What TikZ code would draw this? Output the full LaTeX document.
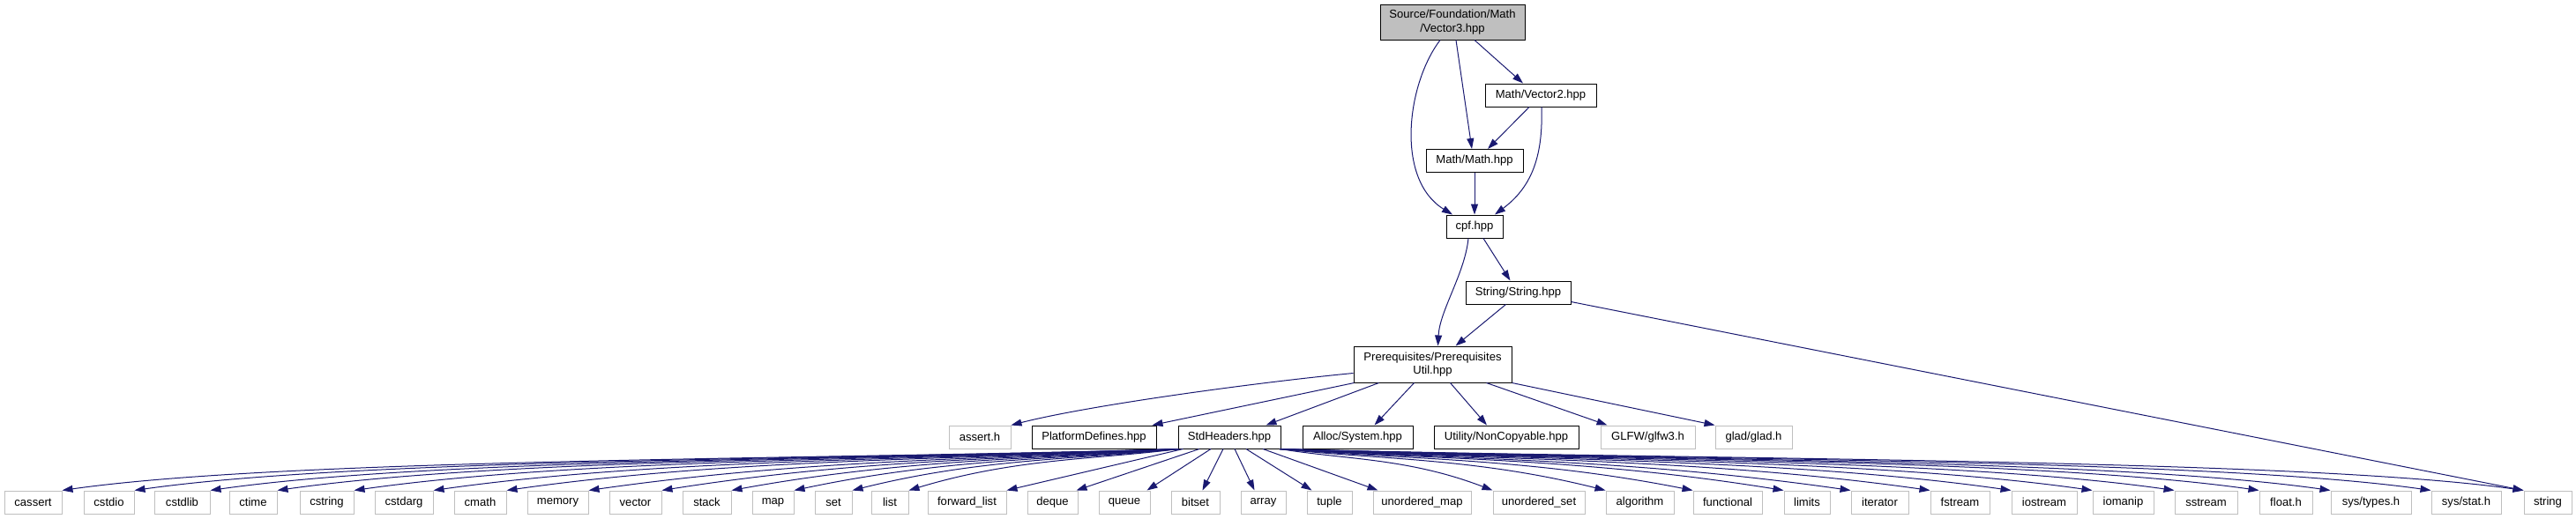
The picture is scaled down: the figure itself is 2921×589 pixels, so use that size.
\documentclass[tikz,border=0pt]{standalone}
\usepackage{fontspec}
\setmainfont{Liberation Sans}
\usepackage{tikz}
\usetikzlibrary{arrows.meta, calc}
\definecolor{dxblue}{HTML}{191970}
\definecolor{dxgray}{HTML}{BFBFBF}
\newcommand{\pxu}{0.75pt}
\tikzset{
  filebox/.style={rectangle, draw=black, line width=0.75pt, fill=white, inner sep=0pt,
    minimum height=26*\pxu, align=center, font=\fontsize{9.8}{11.5}\selectfont},
  extbox/.style={filebox, draw=dxgray},
  curbox/.style={filebox, fill=dxgray},
  edge/.style={draw=dxblue, line width=0.75pt, -{Triangle[length=9pt,width=6pt]}},
}

\begin{document}
\begin{tikzpicture}[x=0.75pt, y=-0.75pt]
  \useasboundingbox (0,0) rectangle (2921,589);
  % upper part of the include graph
  \node[curbox, minimum width=164*\pxu, minimum height=40*\pxu] (v3) at (1647,25) {Source/Foundation/Math\\/Vector3.hpp};
  \node[filebox, minimum width=126*\pxu] (v2) at (1747,108) {Math/Vector2.hpp};
  \node[filebox, minimum width=110*\pxu] (mth) at (1672,182.5) {Math/Math.hpp};
  \node[filebox, minimum width=64*\pxu] (cpf) at (1672,257) {cpf.hpp};
  \node[filebox, minimum width=119*\pxu] (str) at (1721.5,332) {String/String.hpp};
  \node[filebox, minimum width=179*\pxu, minimum height=41*\pxu] (pre) at (1624.5,413.5) {Prerequisites/Prerequisites\\Util.hpp};
  % second row
  \node[extbox, minimum width=70*\pxu] (asserth) at (1111,496) {assert.h};
  \node[filebox, minimum width=141*\pxu] (platdef) at (1240.5,496) {PlatformDefines.hpp};
  \node[filebox, minimum width=116*\pxu] (stdh) at (1394,496) {StdHeaders.hpp};
  \node[filebox, minimum width=125*\pxu] (allocsys) at (1539.5,496) {Alloc/System.hpp};
  \node[filebox, minimum width=164*\pxu] (noncopy) at (1708,496) {Utility/NonCopyable.hpp};
  \node[extbox, minimum width=107*\pxu] (glfw) at (1868.5,496) {GLFW/glfw3.h};
  \node[extbox, minimum width=87*\pxu] (glad) at (1988.5,496) {glad/glad.h};
  % bottom row: standard headers
  \foreach \nm/\lbl/\l/\r in {
    cassert/cassert/5/70, cstdio/cstdio/95/152, cstdlib/cstdlib/175/238,
    ctime/ctime/260/314, cstring/cstring/340/401, cstdarg/cstdarg/425/491,
    cmath/cmath/515/574, memory/memory/598/667, vector/vector/691/750,
    stack/stack/774/829, map/map/853/900, set/set/924/966, list/list/988/1030,
    fwdlist/forward\_list/1052/1141, deque/deque/1165/1222, queue/queue/1246/1304,
    bitset/bitset/1328/1383, array/array/1407/1458, tuple/tuple/1482/1533,
    umap/unordered\_map/1557/1668, uset/unordered\_set/1693/1797,
    algorithm/algorithm/1821/1898, functional/functional/1920/1998,
    limits/limits/2023/2075, iterator/iterator/2099/2164, fstream/fstream/2189/2256,
    iostream/iostream/2281/2355, iomanip/iomanip/2373/2442, sstream/sstream/2466/2537,
    floath/float.h/2562/2622, systypes/{sys/types.h}/2643/2734,
    sysstat/{sys/stat.h}/2757/2836, stringh/string/2862/2916}
    \node[extbox, minimum width={(\r-\l)*\pxu}] (\nm) at ({(\l+\r)/2},570) {\lbl};

  % edges of the upper part
  \draw[edge] ($(v3.south)+(-14,0)$) .. controls +(-38,50) and +(-65,-40) .. ($(cpf.north)+(-25,0)$);
  \draw[edge] ($(v3.south)+(4,0)$) -- ($(mth.north)+(-3,0)$);
  \draw[edge] ($(v3.south)+(25,0)$) -- ($(v2.north)+(-20,0)$);
  \draw[edge] ($(v2.south)+(-13,0)$) -- ($(mth.north)+(15,0)$);
  \draw[edge] ($(v2.south)+(1,0)$) .. controls +(2,59) and +(40,-30) .. ($(cpf.north)+(23,0)$);
  \draw[edge] (mth.south) -- (cpf.north);
  \draw[edge] ($(cpf.south)+(-7,0)$) .. controls +(-4,40) and +(2,-40) .. ($(pre.north)+(6,0)$);
  \draw[edge] ($(cpf.south)+(10,0)$) -- ($(str.north)+(-9,0)$);
  \draw[edge] ($(str.south)+(-14,0)$) -- ($(pre.north)+(26,0)$);
  \draw[edge] ($(str.south east)+(0,-3)$) -- (stringh.north west);
  % edges of PrerequisitesUtil
  \draw[edge] ($(pre.west)+(0,10)$) .. controls +(-105,10) and +(90,-23) .. (asserth.north east);
  \draw[edge] ($(pre.south west)+(1,0)$) -- ($(platdef.north east)+(-5,0)$);
  \draw[edge] ($(pre.south west)+(29,0)$) -- ($(stdh.north east)+(-17,0)$);
  \draw[edge] ($(pre.south)+(-21,0)$) -- ($(allocsys.north)+(19,0)$);
  \draw[edge] ($(pre.south)+(20,0)$) -- ($(noncopy.north)+(-22,0)$);
  \draw[edge] ($(pre.south)+(61,0)$) -- ($(glfw.north west)+(8,0)$);
  \draw[edge] (pre.south east) -- (glad.north west);
  % edges of StdHeaders, fanning out to the left
  \foreach \nm in {cassert,cstdio,cstdlib,ctime,cstring,cstdarg,cmath,memory,vector,stack,map,set,list}
    \draw[edge] let \p1=($(stdh.south west)+(1,0)$), \p2=(\nm.north east) in
      (\p1) .. controls ({0.7*\x1+0.3*\x2},{\y1-9pt}) and ({\x2+min(0.4*abs(\x2-\x1),195pt)},{\y1-7.5pt}) .. (\p2);
  % edges of StdHeaders, almost straight
  \draw[edge] ($(stdh.south west)+(6,0)$) -- (fwdlist.north east);
  \draw[edge] ($(stdh.south)+(-34,0)$) -- ($(deque.north east)+(-2,0)$);
  \draw[edge] ($(stdh.south)+(-21,0)$) -- ($(queue.north east)+(-4,0)$);
  \draw[edge] ($(stdh.south)+(-7,0)$) -- ($(bitset.north)+(8,0)$);
  \draw[edge] ($(stdh.south)+(6,0)$) -- ($(array.north)+(-10,0)$);
  \draw[edge] ($(stdh.south)+(19,0)$) -- ($(tuple.north west)+(6,0)$);
  \draw[edge] ($(stdh.south)+(38,0)$) -- ($(umap.north west)+(6,0)$);
  % edges of StdHeaders, fanning out to the right
  \foreach \nm in {uset,algorithm,functional,limits,iterator,fstream,iostream,iomanip,sstream,floath,systypes,sysstat,stringh}
    \draw[edge] let \p1=($(stdh.south east)+(-1,0)$), \p2=(\nm.north west) in
      (\p1) .. controls ({0.7*\x1+0.3*\x2},{\y1-9pt}) and ({\x2-min(0.4*abs(\x2-\x1),195pt)},{\y1-7.5pt}) .. (\p2);
\end{tikzpicture}
\end{document}
